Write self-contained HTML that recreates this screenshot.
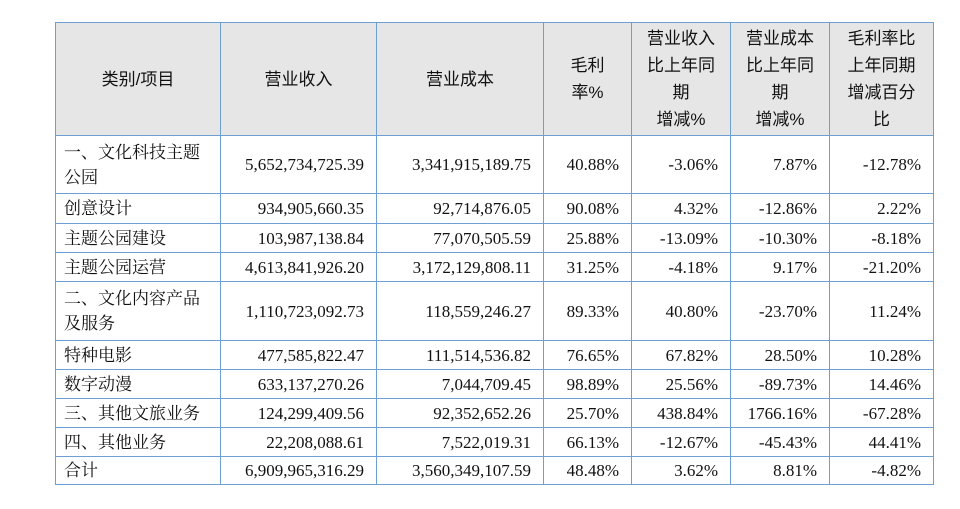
<!DOCTYPE html>
<html><head><meta charset="utf-8"><style>
html,body{margin:0;padding:0;background:#fff;width:960px;height:509px;overflow:hidden}
table{position:absolute;left:55px;top:22px;border-collapse:collapse;table-layout:fixed;font-family:"Liberation Serif","Noto Serif CJK SC",serif;font-size:17px;color:#111}
td,th{border:1px solid #6d9fd3;padding:0 12px 0 6px;line-height:25px;overflow:hidden}
th{background:#e6e6e6;font-family:"Liberation Sans","Noto Sans CJK SC",sans-serif;font-weight:normal;text-align:center;padding:0 4px;line-height:27px}
td{text-align:right}
td.l{text-align:left;padding-left:8px;padding-right:2px;font-family:"Liberation Serif","Noto Serif CJK SC",serif}
</style></head><body>
<table>
<colgroup><col style="width:165px"><col style="width:156px"><col style="width:167px"><col style="width:88px"><col style="width:99px"><col style="width:99px"><col style="width:104px"></colgroup>
<tr style="height:113px">
<th>类别/项目</th>
<th>营业收入</th>
<th>营业成本</th>
<th>毛利<br>率%</th>
<th>营业收入<br>比上年同<br>期<br>增减%</th>
<th>营业成本<br>比上年同<br>期<br>增减%</th>
<th>毛利率比<br>上年同期<br>增减百分<br>比</th>
</tr>
<tr style="height:58px"><td class="l">一、文化科技主题<br>公园</td><td>5,652,734,725.39</td><td>3,341,915,189.75</td><td>40.88%</td><td>-3.06%</td><td>7.87%</td><td>-12.78%</td></tr>
<tr style="height:30px"><td class="l">创意设计</td><td>934,905,660.35</td><td>92,714,876.05</td><td>90.08%</td><td>4.32%</td><td>-12.86%</td><td>2.22%</td></tr>
<tr style="height:29px"><td class="l">主题公园建设</td><td>103,987,138.84</td><td>77,070,505.59</td><td>25.88%</td><td>-13.09%</td><td>-10.30%</td><td>-8.18%</td></tr>
<tr style="height:29px"><td class="l">主题公园运营</td><td>4,613,841,926.20</td><td>3,172,129,808.11</td><td>31.25%</td><td>-4.18%</td><td>9.17%</td><td>-21.20%</td></tr>
<tr style="height:59px"><td class="l">二、文化内容产品<br>及服务</td><td>1,110,723,092.73</td><td>118,559,246.27</td><td>89.33%</td><td>40.80%</td><td>-23.70%</td><td>11.24%</td></tr>
<tr style="height:29px"><td class="l">特种电影</td><td>477,585,822.47</td><td>111,514,536.82</td><td>76.65%</td><td>67.82%</td><td>28.50%</td><td>10.28%</td></tr>
<tr style="height:29px"><td class="l">数字动漫</td><td>633,137,270.26</td><td>7,044,709.45</td><td>98.89%</td><td>25.56%</td><td>-89.73%</td><td>14.46%</td></tr>
<tr style="height:29px"><td class="l">三、其他文旅业务</td><td>124,299,409.56</td><td>92,352,652.26</td><td>25.70%</td><td>438.84%</td><td>1766.16%</td><td>-67.28%</td></tr>
<tr style="height:29px"><td class="l">四、其他业务</td><td>22,208,088.61</td><td>7,522,019.31</td><td>66.13%</td><td>-12.67%</td><td>-45.43%</td><td>44.41%</td></tr>
<tr style="height:28px"><td class="l">合计</td><td>6,909,965,316.29</td><td>3,560,349,107.59</td><td>48.48%</td><td>3.62%</td><td>8.81%</td><td>-4.82%</td></tr>
</table>
</body></html>
